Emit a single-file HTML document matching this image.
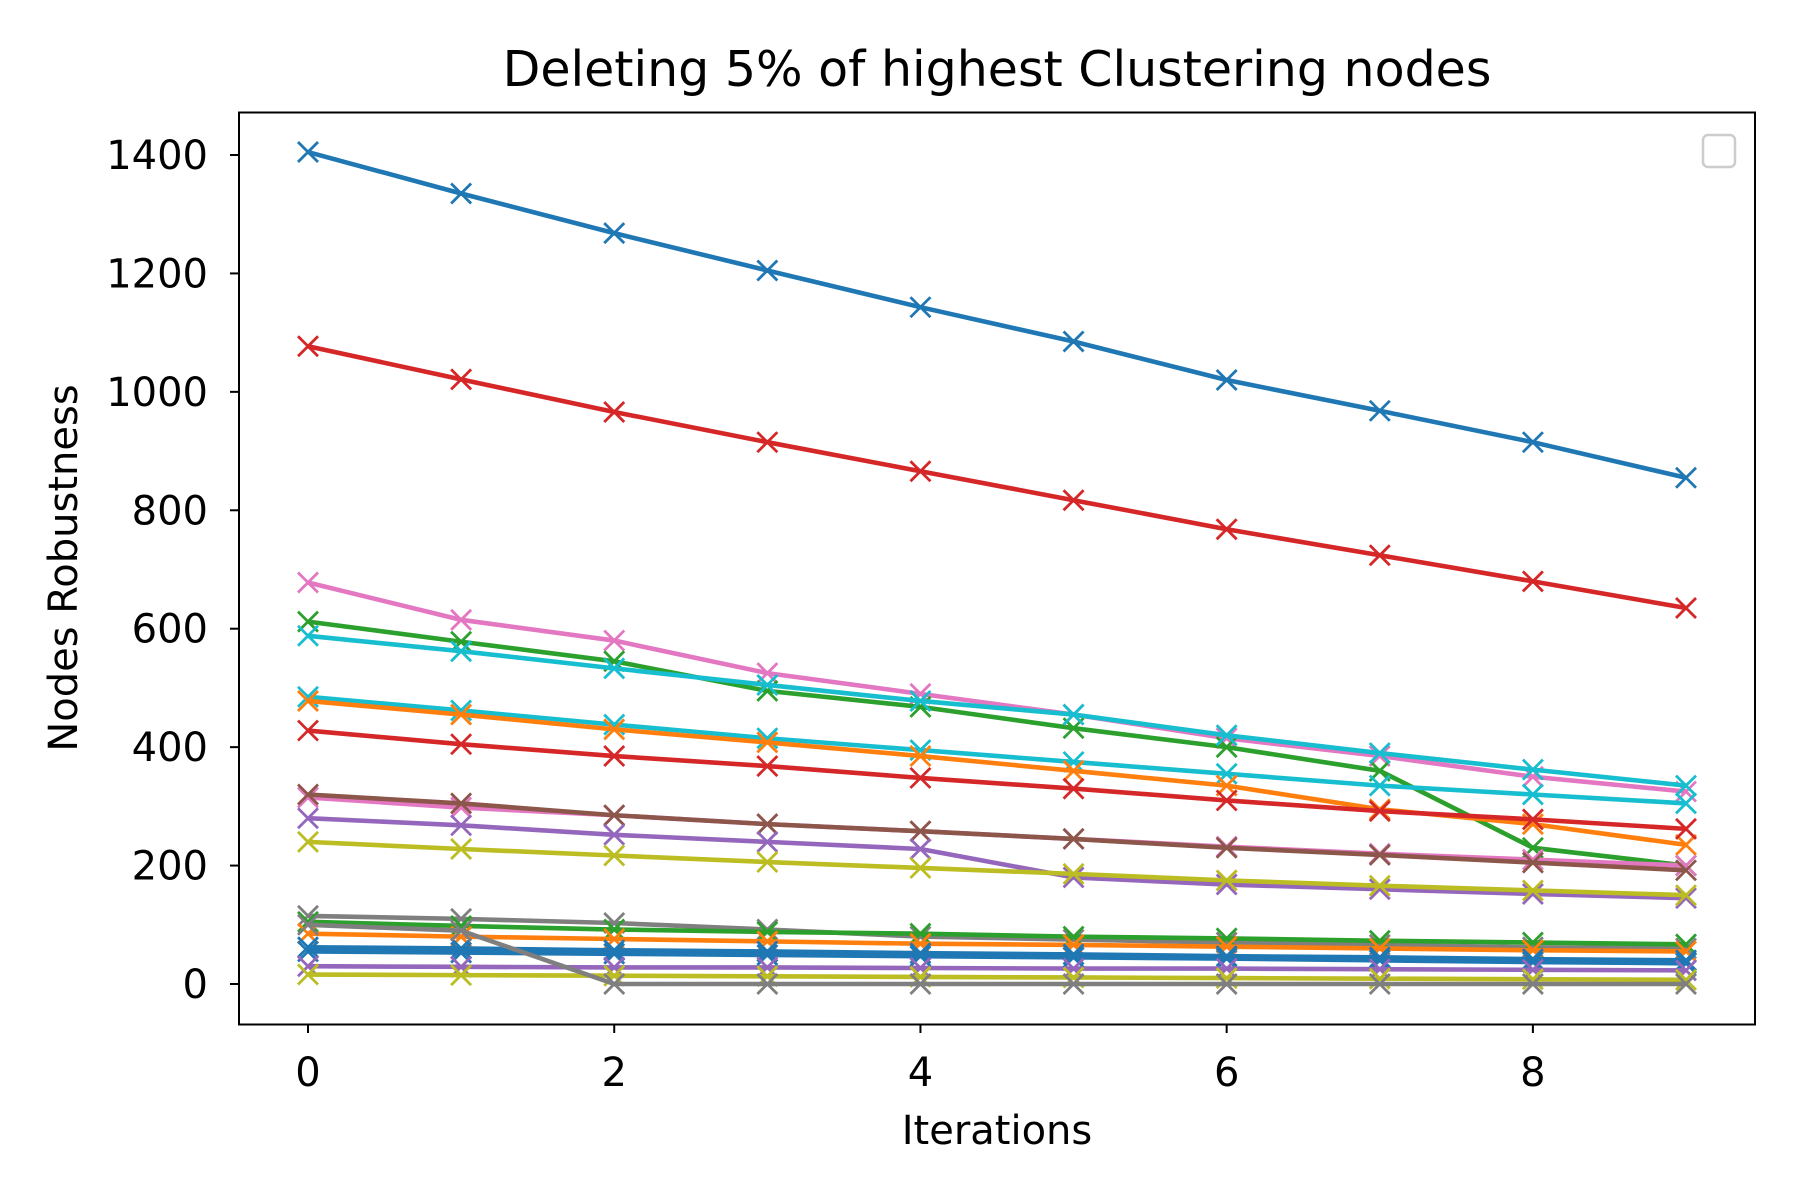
<!DOCTYPE html>
<html><head><meta charset="utf-8"><style>
html,body{margin:0;padding:0;background:#fff;}
svg{display:block;font-family:"DejaVu Sans","Liberation Sans",sans-serif;}
</style></head><body>
<svg id="chart" width="1800" height="1200" viewBox="0 0 1800 1200" xmlns="http://www.w3.org/2000/svg">
<rect width="1800" height="1200" fill="#fff"/>
<text x="997" y="86" text-anchor="middle" font-size="49">Deleting 5% of highest Clustering nodes</text>
<text x="997" y="1144" text-anchor="middle" font-size="40">Iterations</text>
<text transform="translate(77,568) rotate(-90)" text-anchor="middle" font-size="40">Nodes Robustness</text>
<g id="ticks"></g>
<g id="series"></g>
<rect x="239" y="112.5" width="1516" height="912" fill="none" stroke="#000" stroke-width="2"/>
<rect x="1703" y="135" width="32" height="32" rx="5" fill="#fff" stroke="#ccc" stroke-width="2.5"/>
</svg>
<script>
const iterations=[0,1,2,3,4,5,6,7,8,9];
const xTicks=[0,2,4,6,8];
const yTicks=[0,200,400,600,800,1000,1200,1400];
const s1=[1405,1335,1268,1205,1143,1085,1020,968,915,855];
const s2=[1077,1021,966,915,866,817,768,724,680,635];
const s3=[678,615,580,525,490,455,415,385,350,325];
const s4=[612,578,545,495,468,432,400,360,230,200];
const s5=[588,562,533,505,478,455,420,390,362,335];
const s6=[485,462,438,415,395,375,355,335,320,305];
const s7=[478,455,430,408,385,360,335,295,270,235];
const s8=[315,298,285,270,258,245,232,220,210,200];
const s9=[320,305,285,270,258,245,230,218,205,192];
const s10=[428,405,385,368,348,330,310,292,278,262];
const s11=[280,268,252,240,228,180,168,160,152,145];
const s12=[240,228,217,206,196,186,175,166,158,150];
const s13=[115,110,103,92,80,75,70,66,62,60];
const s14=[105,98,92,88,85,80,77,73,70,67];
const s15=[85,80,76,72,68,66,63,60,57,55];
const s16=[62,60,57,55,52,50,47,45,42,40];
const s17=[55,53,51,49,47,45,43,40,37,35];
const s18=[30,29,28,28,27,26,26,25,24,23];
const s19=[16,15,14,13,12,11,10,9,8,7];
const s20=[100,90,0,0,0,0,0,0,0,0];
const seriesList=[s1,s2,s3,s4,s5,s6,s7,s8,s9,s10,s11,s12,s13,s14,s15,s16,s17,s18,s19,s20];
const colors=["#1f77b4","#d62728","#e377c2","#2ca02c","#17becf","#17becf","#ff7f0e","#e377c2","#8c564b","#d62728","#9467bd","#bcbd22","#7f7f7f","#2ca02c","#ff7f0e","#1f77b4","#1f77b4","#9467bd","#bcbd22","#7f7f7f"];
const NS="http://www.w3.org/2000/svg";
function xs(v){return 308+v*(1686-308)/9;}
function ys(v){return 984-v*(984-155)/1400;}
const tg=document.getElementById('ticks');
function mk(t,a,p){const e=document.createElementNS(NS,t);for(const k in a)e.setAttribute(k,a[k]);p.appendChild(e);return e;}
xTicks.forEach(v=>{
 const l=mk('line',{x1:xs(v),x2:xs(v),y1:1024.5,y2:1033,stroke:'#000','stroke-width':2},tg);
 
 
 const t=mk('text',{x:xs(v),y:1086,'text-anchor':'middle','font-size':40},tg);t.textContent=v;
 
 
});
yTicks.forEach(v=>{
 const l=mk('line',{x1:230,x2:239,y1:ys(v),y2:ys(v),stroke:'#000','stroke-width':2},tg);
 
 
 const t=mk('text',{x:208,y:ys(v)+14,'text-anchor':'end','font-size':40},tg);t.textContent=v;
 
 
});
const sg=document.getElementById('series');
seriesList.forEach((s,i)=>{
 const g=mk('g',{},sg);
 
 
 const pts=s.map((v,j)=>xs(iterations[j])+','+ys(v)).join(' ');
 mk('polyline',{points:pts,fill:'none',stroke:colors[i],'stroke-width':4.6,'stroke-linejoin':'round'},g);
 s.forEach((v,j)=>{
  const x=xs(iterations[j]),y=ys(v),d=10;
  const m=mk('path',{d:`M${x-d},${y-d}L${x+d},${y+d}M${x-d},${y+d}L${x+d},${y-d}`,stroke:colors[i],'stroke-width':2.8,fill:'none'},g);
  
  
 });
});
</script>
</body></html>
